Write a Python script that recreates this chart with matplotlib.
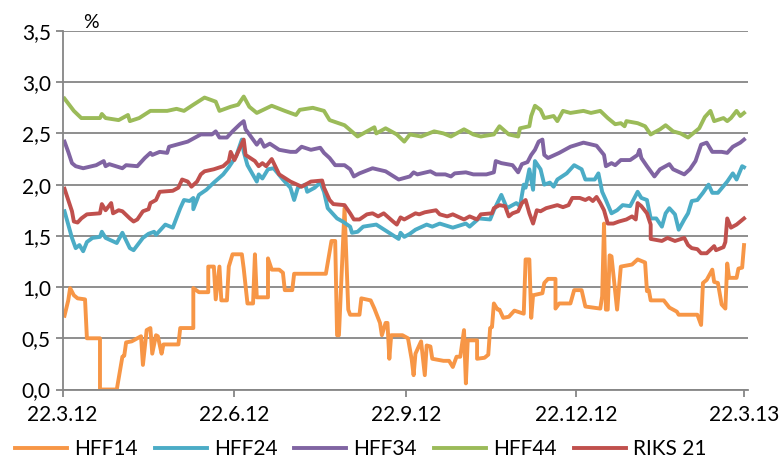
import datetime as dt
import matplotlib
matplotlib.use("Agg")
import matplotlib.pyplot as plt

plt.rcParams['font.family'] = ['Lato', 'DejaVu Sans']

start = dt.date(2012, 3, 22)

# days after 22.3.12, values in %
hff44_days = [1, 6.6, 10, 20, 21, 23, 30, 35, 36, 41, 47, 56, 61, 65, 70, 76, 82, 84, 90, 94, 97, 100, 104, 112,
              119, 125, 127, 134, 140, 143, 151, 158, 163, 167, 168, 173, 179, 183, 186, 192, 199, 204, 208,
              215, 220, 224, 231, 234, 239, 244, 245, 250, 251.5, 253, 256, 258, 263, 265, 268, 272, 279, 283,
              288, 292, 296, 299, 301, 302, 308, 312, 315, 320, 323, 327, 331, 335, 341, 344, 347, 349, 354,
              356, 358, 361, 363, 365]
hff44 = [2.84, 2.72, 2.65, 2.65, 2.69, 2.65, 2.63, 2.68, 2.62, 2.65, 2.72, 2.72, 2.74, 2.72, 2.78, 2.85, 2.81,
         2.72, 2.76, 2.78, 2.86, 2.76, 2.70, 2.77, 2.72, 2.68, 2.73, 2.75, 2.72, 2.63, 2.58, 2.47, 2.52,
         2.56, 2.50, 2.55, 2.49, 2.42, 2.49, 2.47, 2.52, 2.50, 2.47, 2.54, 2.49, 2.47, 2.49, 2.57, 2.49,
         2.47, 2.55, 2.57, 2.67, 2.77, 2.73, 2.65, 2.67, 2.62, 2.72, 2.70, 2.72, 2.70, 2.72, 2.65, 2.59,
         2.60, 2.57, 2.62, 2.60, 2.57, 2.49, 2.54, 2.58, 2.52, 2.50, 2.46, 2.55, 2.66, 2.72, 2.62, 2.65,
         2.62, 2.65, 2.72, 2.67, 2.70]

hff34_days = [1, 3, 5, 7.5, 11, 18, 22, 23.6, 25, 32.5, 34, 40, 44, 47, 48.6, 52, 56, 57.5, 63, 67, 74, 80,
              82, 84, 88, 91.5, 95, 97, 98, 100, 104, 106, 108, 111, 116.5, 122, 125.5, 128, 133.5, 138,
              140.6, 143, 146, 151, 154, 156.7, 159.4, 166.5, 173.7, 180, 186, 188, 190, 197, 200.5, 205,
              208.6, 210.4, 216.6, 220, 227, 231, 232.7, 235.4, 241.6, 244.3, 246, 249, 251.5, 253, 255, 257,
              258.6, 260.4, 266.6, 272, 279, 286, 290, 291.7, 294.4, 296, 299, 304, 308, 309, 310.5, 313,
              317.6, 320.3, 325.6, 327.4, 333.7, 336.4, 339, 342.6, 345.3, 348, 353.3, 356, 359.6, 363, 365]
hff34 = [2.42, 2.32, 2.21, 2.18, 2.16, 2.19, 2.23, 2.18, 2.20, 2.16, 2.19, 2.18, 2.26, 2.31, 2.29, 2.32,
         2.31, 2.37, 2.40, 2.42, 2.49, 2.49, 2.52, 2.46, 2.46, 2.52, 2.59, 2.62, 2.54, 2.49, 2.39, 2.44,
         2.37, 2.40, 2.34, 2.32, 2.32, 2.37, 2.34, 2.36, 2.31, 2.26, 2.19, 2.19, 2.15, 2.08, 2.11, 2.16,
         2.13, 2.05, 2.08, 2.12, 2.10, 2.13, 2.10, 2.10, 2.08, 2.11, 2.12, 2.10, 2.10, 2.12, 2.23, 2.21,
         2.19, 2.12, 2.20, 2.22, 2.29, 2.34, 2.42, 2.44, 2.29, 2.26, 2.31, 2.37, 2.41, 2.38, 2.29, 2.18,
         2.21, 2.19, 2.24, 2.24, 2.29, 2.34, 2.26, 2.18, 2.08, 2.15, 2.20, 2.15, 2.10, 2.15, 2.23, 2.39,
         2.41, 2.32, 2.32, 2.31, 2.37, 2.41, 2.44]

hff24_days = [1, 3, 5.7, 7.5, 9.3, 11, 13, 16.4, 20, 21.8, 23.6, 29.8, 32.5, 36, 38.8, 43, 46.8, 49.5, 50.4,
              55.8, 59.3, 63, 65.6, 68.3, 70, 70.9, 73.6, 77, 81, 86, 89.7, 93.3, 96.5, 97.7, 99.5, 104,
              105.8, 107.6, 110.2, 113, 118.3, 122.8, 124.6, 126.3, 130, 131.7, 135.3, 138, 140.6, 142.4,
              147, 150.5, 154, 155.8, 158.5, 161.2, 168.4, 174.6, 180, 181.8, 183.5, 186.2, 189, 195, 198.7,
              202.3, 209.5, 216.6, 218.4, 223.8, 229, 231, 235.4, 238, 243.4, 245.2, 247, 248.8, 250.6, 252.3,
              253.8, 256, 258.6, 261.3, 263, 265, 270, 274.7, 278.3, 280, 285.4, 287.2, 289, 291.7, 294.4,
              297, 300.6, 304.2, 308.6, 310.5, 313, 315.8, 318.5, 321.2, 323, 325.6, 328.3, 330, 333.7,
              335.4, 337.3, 340.8, 343.5, 346.2, 348, 351.5, 356, 359.6, 361.4, 364, 365]
hff24 = [1.74, 1.61, 1.48, 1.38, 1.41, 1.35, 1.44, 1.48, 1.49, 1.54, 1.48, 1.43, 1.53, 1.38, 1.36, 1.48,
         1.52, 1.54, 1.51, 1.61, 1.58, 1.77, 1.85, 1.84, 1.87, 1.76, 1.90, 1.95, 2.02, 2.10, 2.17, 2.28,
         2.44, 2.32, 2.19, 2.03, 2.10, 2.06, 2.15, 2.16, 2.05, 1.97, 1.85, 1.97, 2.00, 1.93, 1.97, 2.02,
         1.93, 1.77, 1.67, 1.64, 1.59, 1.53, 1.54, 1.59, 1.61, 1.54, 1.47, 1.53, 1.49, 1.52, 1.56, 1.61,
         1.59, 1.62, 1.58, 1.62, 1.59, 1.67, 1.66, 1.75, 1.90, 1.77, 1.82, 1.79, 2.00, 1.97, 2.15, 1.95,
         2.23, 2.15, 2.00, 2.02, 1.98, 2.05, 2.11, 2.19, 2.15, 2.05, 2.05, 2.11, 1.93, 1.85, 1.72, 1.75,
         1.80, 1.79, 1.93, 1.87, 1.85, 1.67, 1.67, 1.59, 1.72, 1.77, 1.71, 1.56, 1.66, 1.72, 1.84, 1.85,
         1.92, 2.00, 1.92, 1.92, 2.03, 2.11, 2.05, 2.18, 2.17]

riks21_days = [1, 3, 5, 6.6, 8.4, 10, 13, 20, 21.8, 23.6, 26.3, 27.1, 30, 32.5, 36, 38, 40.5, 43, 46, 47.7,
               50.4, 52, 59, 62, 64.7, 67.3, 69, 72, 74.5, 76.3, 81.7, 86, 89.7, 90.6, 92.4, 94.2, 97.2,
               98.7, 103, 105.8, 107.6, 109.4, 112, 116.5, 122, 128, 133.5, 139, 140.6, 143.3, 145, 151.4,
               154, 156.7, 159.4, 163, 166.5, 169, 172.8, 177.3, 179, 181, 183.5, 189, 191.6, 194.3, 200.5,
               202.3, 206, 209.5, 215.7, 218.4, 222, 224.7, 230, 231.8, 234.5, 237, 239, 241.6, 244.3, 246,
               248, 250.6, 252.3, 254, 256.8, 259.5, 265, 268.4, 271, 273.8, 277.4, 280, 282.7, 284.5, 286.3,
               288, 290, 292.5, 295, 298.8, 302.4, 305, 307, 308.6, 310.5, 313, 315, 315.8, 321, 324, 328,
               333.7, 335.4, 337.3, 340.8, 342.6, 345.3, 349, 350.7, 354.2, 355.1, 356, 358, 359.6, 361.4,
               363.2, 365]
riks21 = [1.96, 1.85, 1.74, 1.64, 1.63, 1.67, 1.71, 1.72, 1.81, 1.75, 1.82, 1.72, 1.75, 1.74, 1.67, 1.64,
          1.66, 1.74, 1.76, 1.82, 1.85, 1.93, 1.94, 1.97, 2.05, 2.03, 1.98, 2.03, 2.10, 2.13, 2.15, 2.18,
          2.23, 2.32, 2.24, 2.32, 2.44, 2.29, 2.23, 2.18, 2.21, 2.18, 2.25, 2.10, 2.03, 1.98, 2.03, 2.04,
          1.97, 1.85, 1.81, 1.80, 1.72, 1.66, 1.66, 1.71, 1.72, 1.69, 1.72, 1.64, 1.61, 1.68, 1.66, 1.72,
          1.71, 1.73, 1.75, 1.71, 1.69, 1.71, 1.66, 1.69, 1.66, 1.71, 1.72, 1.77, 1.80, 1.79, 1.69, 1.72,
          1.74, 1.82, 1.85, 1.72, 1.62, 1.75, 1.74, 1.77, 1.80, 1.78, 1.80, 1.87, 1.87, 1.85, 1.87, 1.84,
          1.88, 1.82, 1.75, 1.62, 1.62, 1.64, 1.66, 1.69, 1.66, 1.82, 1.79, 1.72, 1.61, 1.47, 1.45, 1.48,
          1.45, 1.48, 1.41, 1.38, 1.37, 1.33, 1.33, 1.40, 1.36, 1.39, 1.44, 1.67, 1.58, 1.59, 1.61, 1.64,
          1.67]

hff14_days = [1, 3, 4.8, 6.6, 8.4, 12.5, 13.2, 20, 20.9, 29.8, 32.5, 33.9, 34.8, 37.9, 42.4, 43.6, 45.9, 47.2,
              48.6, 50, 51.3, 53.1, 54.3, 62, 63.8, 70, 70.9, 73.6, 78.1, 78.6, 81.1, 82.6, 84, 85.3, 88.8,
              89.3, 91.5, 96.8, 97.7, 99, 102.2, 103.1, 104.3, 110.2, 110.8, 112.9, 116.5, 118, 119.7, 123.6,
              124.7, 141.5, 144.3, 146, 147.3, 148.7, 151.4, 153.1, 154.9, 159.4, 160.3, 165.7, 167.5, 170.1,
              171.9, 173.4, 174.6, 175.5, 176.4, 182.6, 185.3, 187.1, 188.9, 189.8, 192.5, 194.3, 195.2, 197,
              198.7, 204.1, 207.7, 209.5, 211.3, 213.9, 215.7, 216.6, 217.5, 222, 222.8, 226.4, 228.8, 229.5,
              230.9, 231.8, 233, 234.5, 236.3, 239.8, 242.5, 247.9, 248.8, 250.2, 251.1, 252.3, 257.7, 258.6,
              260.4, 264, 264.9, 266.7, 272.9, 274.2, 278.3, 280.1, 288.1, 289, 290.2, 291.1, 292.5, 293.5,
              294.7, 297.9, 299.7, 305.9, 308.1, 312.2, 313.1, 314.9, 315.8, 322, 325.6, 329.2, 330.1, 340.8,
              342.1, 343.1, 345.3, 348, 348.9, 349.8, 351.5, 353.3, 355.1, 356.9, 357.8, 361.4, 362.3, 364.1,
              365]
hff14 = [0.72, 0.87, 0.99, 0.92, 0.89, 0.88, 0.50, 0.50, 0.0, 0.0, 0.32, 0.33, 0.46, 0.47, 0.52, 0.24, 0.58,
         0.60, 0.35, 0.53, 0.52, 0.35, 0.44, 0.44, 0.60, 0.60, 0.99, 0.95, 0.95, 1.20, 1.20, 0.88, 1.20,
         0.87, 0.87, 1.20, 1.32, 1.32, 1.18, 0.84, 0.84, 1.32, 0.90, 0.90, 1.28, 1.17, 1.17, 1.14, 0.97,
         0.97, 1.13, 1.13, 1.45, 1.45, 0.53, 0.53, 1.77, 0.78, 0.73, 0.73, 0.89, 0.87, 0.79, 0.65, 0.53,
         0.65, 0.65, 0.30, 0.53, 0.53, 0.50, 0.29, 0.14, 0.35, 0.47, 0.14, 0.43, 0.42, 0.30, 0.28, 0.28,
         0.22, 0.32, 0.32, 0.58, 0.06, 0.48, 0.48, 0.30, 0.31, 0.34, 0.60, 0.61, 0.84, 0.78, 0.78, 0.70,
         0.71, 0.77, 0.74, 1.27, 1.27, 0.70, 0.92, 0.94, 1.04, 1.08, 1.08, 0.79, 0.84, 0.84, 0.97, 0.97,
         0.81, 0.79, 0.91, 1.62, 0.78, 0.78, 1.31, 1.30, 0.78, 1.20, 1.22, 1.27, 1.24, 0.96, 0.97, 0.87,
         0.87, 0.80, 0.76, 0.73, 0.73, 0.63, 1.04, 1.07, 1.17, 1.17, 1.05, 1.04, 0.83, 0.79, 1.23, 1.09,
         1.09, 1.18, 1.19, 1.41]

series = [
    ("HFF14", hff14_days, hff14, "#F79646"),
    ("HFF24", hff24_days, hff24, "#4BACC6"),
    ("HFF34", hff34_days, hff34, "#8064A2"),
    ("HFF44", hff44_days, hff44, "#9BBB59"),
    ("RIKS 21", riks21_days, riks21, "#C0504D"),
]

tick_dates = [dt.date(2012, 3, 22), dt.date(2012, 6, 22), dt.date(2012, 9, 22),
              dt.date(2012, 12, 22), dt.date(2013, 3, 22)]
tick_labels = ["22.3.12", "22.6.12", "22.9.12", "22.12.12", "22.3.13"]
y_ticks = [0.0, 0.5, 1.0, 1.5, 2.0, 2.5, 3.0, 3.5]


def to_dates(days):
    return [start + dt.timedelta(days=d) for d in days]


fig = plt.figure(figsize=(7.83, 4.59), dpi=100)
ax = fig.add_axes([0.080, 0.1514, 0.875, 0.7811])

for name, days, vals, col in series:
    ax.plot(to_dates(days), vals, color=col, lw=2.8, label=name, solid_joinstyle="round")

grid_col = "#868686"
ax.set_ylim(0, 3.5)
ax.set_yticks(y_ticks)
ax.set_yticklabels([f"{v:.1f}".replace(".", ",") for v in y_ticks])
ax.set_xlim(start, start + dt.timedelta(days=367.3))
ax.set_xticks(tick_dates)
ax.set_xticklabels(tick_labels)
ax.yaxis.grid(True, color=grid_col, lw=1.3)
ax.set_axisbelow(True)
for s in ["top", "right"]:
    ax.spines[s].set_visible(False)
for s in ["left", "bottom"]:
    ax.spines[s].set_color(grid_col)
    ax.spines[s].set_linewidth(1.3)
ax.tick_params(axis="both", colors=grid_col, length=5, width=1.3, labelsize=15, labelcolor="black")
ax.tick_params(axis="x", pad=6)

ax.text(0.03, 1.0, "%", transform=ax.transAxes, fontsize=14, va="bottom")

ax.legend(loc="upper center", bbox_to_anchor=(0.435, -0.115), ncol=5, frameon=False, fontsize=15,
          handlelength=2.5, handletextpad=0.35, columnspacing=0.8, borderaxespad=0)

fig.savefig("out.png", dpi=100)
